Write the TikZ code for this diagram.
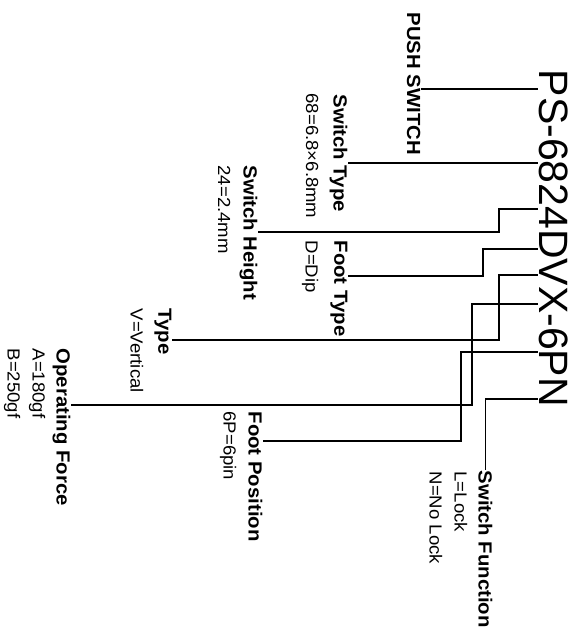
\documentclass[tikz,border=0pt]{standalone}
\usepackage{fontspec}
\setmainfont{Liberation Sans}
\newfontfamily\labelfont[FakeStretch=1.07]{Liberation Sans}
\newfontfamily\valuefont[FakeStretch=1.06]{Liberation Sans}
\usetikzlibrary{positioning}

\begin{document}
\begin{tikzpicture}[x=1pt,y=-1pt,line width=1.35pt,
  every node/.style={rotate=-90,inner sep=0pt,anchor=north west},
  lbl/.style={font=\labelfont\bfseries\fontsize{19}{20}\selectfont},
  val/.style={font=\valuefont\fontsize{17.5}{25}\selectfont,align=left}]
\useasboundingbox (0,0) rectangle (577,630);

\node[anchor=base west,font=\fontsize{41}{45}\selectfont] (main) at (539,69) {PS-6824DVX-6PN};

\node[lbl] (push) at (421,12) {PUSH SWITCH};
\node[lbl] (stype) at (348,94) {Switch Type};
\node[val] (stypev) at (319,93) {68=6.8×6.8mm};
\node[lbl] (sheight) at (258,165) {Switch Height};
\node[val] (sheightv) at (231,165) {24=2.4mm};
\node[lbl] (ftype) at (348,240) {Foot Type};
\node[val] (ftypev) at (319,240) {D=Dip};
\node[lbl] (type) at (172,308) {Type};
\node[val] (typev) at (144,308) {V=Vertical};
\node[lbl] (force) at (71,348) {Operating Force};
\node[val] (forcev) at (46,348) {A=180gf\\B=250gf};
\node[lbl] (fpos) at (263,411) {Foot Position};
\node[val] (fposv) at (237,411) {6P=6pin};
\node[lbl] (sfunc) at (493,470) {Switch Function};
\node[val] (sfuncv) at (468,471) {L=Lock\\N=No Lock};

% leaders from the part number to each field
\draw (push.north |- 0,89) -- (main.south |- 0,89);
\draw (stype.north |- 0,163) -- (main.south |- 0,163);
\draw (main.south |- 0,209) -| (499,232) -- (sheight.north |- 0,232);
\draw (main.south |- 0,249) -| (483,276) -- (ftype.north |- 0,276);
\draw (main.south |- 0,275) -| (499,340) -- (type.north |- 0,340);
\draw (main.south |- 0,304) -| (472,405) -- (force.north |- 0,405);
\draw (main.south |- 0,352) -| (461,441) -- (fpos.north |- 0,441);
\draw (main.south |- 0,399) -| (sfunc.west);
\end{tikzpicture}
\end{document}
